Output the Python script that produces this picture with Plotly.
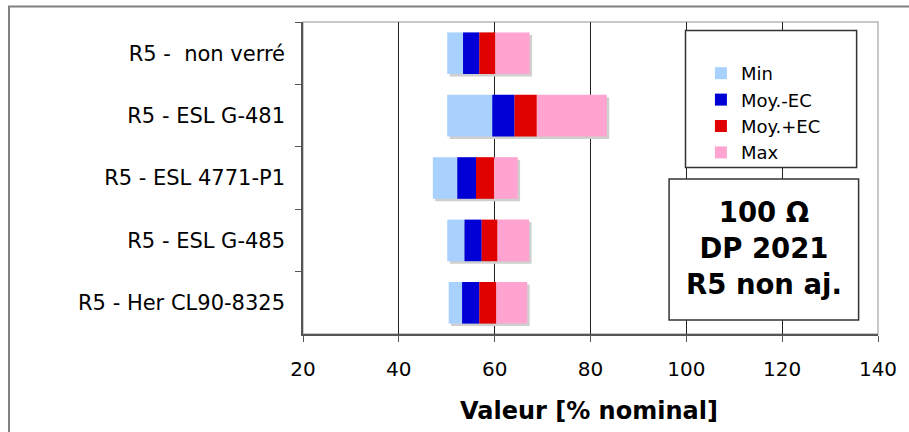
import plotly.graph_objects as go

# ---- data ----
categories = ["R5 - \u00a0non verré", "R5 - ESL G-481", "R5 - ESL 4771-P1",
              "R5 - ESL G-485", "R5 - Her CL90-8325"]
val_min = [50.1, 50.1, 47.1, 50.1, 50.4]
val_moy_minus = [53.4, 59.5, 52.2, 53.7, 53.2]
val_moy = [56.8, 64.15, 56.1, 57.3, 56.8]
val_moy_plus = [60.15, 68.8, 59.9, 60.6, 60.35]
val_max = [67.3, 83.4, 64.8, 67.2, 66.8]
series_names = ["Min", "Moy.-EC", "Moy.+EC", "Max"]
x_ticks = [20, 40, 60, 80, 100, 120, 140]

colors = ["#a8d1fd", "#0000d6", "#e00000", "#ffa3d0"]
FONT = "DejaVu Sans"

# plot-area geometry (pixels)
W, H = 909, 432
L, R, T, B = 303, 28, 22, 98
pw, ph = W - L - R, H - T - B


def px2x(px):
    return (px - L) / pw


def py2y(py):
    return (H - B - py) / ph


bounds = [val_min, val_moy_minus, val_moy, val_moy_plus, val_max]
BW = 0.667

fig = go.Figure()

# drop shadow
fig.add_trace(go.Bar(
    y=categories, base=[v + 0.5 for v in val_min],
    x=[b - a for a, b in zip(val_min, val_max)],
    orientation="h", width=BW, offset=-BW / 2 + 0.04,
    marker=dict(color="#cfcfcf", line=dict(width=0)),
    showlegend=False, hoverinfo="skip"))

for i, name in enumerate(series_names):
    lo, hi = bounds[i], bounds[i + 1]
    fig.add_trace(go.Bar(
        y=categories, base=lo, x=[b - a for a, b in zip(lo, hi)],
        orientation="h", width=BW, name=name,
        marker=dict(color=colors[i], line=dict(width=0))))

shapes = [
    # outer frame
    dict(type="rect", xref="paper", yref="paper",
         x0=px2x(7.5), x1=px2x(930), y0=py2y(460), y1=py2y(6.5),
         line=dict(color="#808080", width=2), layer="below"),
    # plot area top/right border
    dict(type="rect", xref="paper", yref="paper", x0=0, x1=1, y0=0, y1=1,
         line=dict(color="#b8b8b8", width=1.5), layer="below"),
    # legend box
    dict(type="rect", xref="paper", yref="paper",
         x0=px2x(687.5), x1=px2x(859.5), y0=py2y(167.5), y1=py2y(30.5),
         line=dict(color="#333333", width=1.5), fillcolor="white", layer="above"),
    # text box
    dict(type="rect", xref="paper", yref="paper",
         x0=px2x(671), x1=px2x(861.5), y0=py2y(320), y1=py2y(179),
         line=dict(color="#333333", width=1.5), fillcolor="white", layer="above"),
]

annotations = [
    dict(text="<b>100 Ω<br>DP 2021<br>R5 non aj.</b>", xref="paper", yref="paper",
         x=px2x(766), y=py2y(248), xanchor="center", yanchor="middle",
         showarrow=False, align="center",
         font=dict(family=FONT, size=27.5, color="black")),
    dict(text="<b>Valeur [% nominal]</b>", xref="paper", yref="paper",
         x=px2x(590), y=py2y(411), xanchor="center", yanchor="middle",
         showarrow=False, font=dict(family=FONT, size=24, color="black")),
]

fig.update_layout(
    width=W, height=H,
    margin=dict(l=L, r=R, t=T, b=B, pad=0),
    paper_bgcolor="white", plot_bgcolor="white",
    barmode="overlay",
    font=dict(family=FONT, color="black"),
    shapes=shapes, annotations=annotations,
    showlegend=True,
    legend=dict(x=px2x(703), y=py2y(55), xanchor="left", yanchor="top",
                bgcolor="rgba(0,0,0,0)", borderwidth=0,
                font=dict(family=FONT, size=18, color="black"),
                traceorder="normal", tracegroupgap=0),
)

fig.update_xaxes(
    range=[20, 140], tickvals=x_ticks, ticktext=[str(v) for v in x_ticks],
    showgrid=True, gridcolor="#222222", gridwidth=1,
    showline=True, linecolor="#555555", linewidth=1.5,
    ticks="outside", ticklen=6, tickcolor="#555555", tickwidth=1,
    tickfont=dict(family=FONT, size=20, color="black"),
    ticklabelstandoff=10, zeroline=False, fixedrange=True)

fig.update_yaxes(
    type="category", categoryorder="array", categoryarray=categories,
    range=[4.5, -0.5], showgrid=False,
    showline=True, linecolor="#555555", linewidth=1.5,
    ticks="outside", tickson="boundaries", ticklen=6, tickcolor="#555555",
    tickfont=dict(family=FONT, size=21, color="black"),
    ticklabelstandoff=12, fixedrange=True)

fig.write_html("out.html")
